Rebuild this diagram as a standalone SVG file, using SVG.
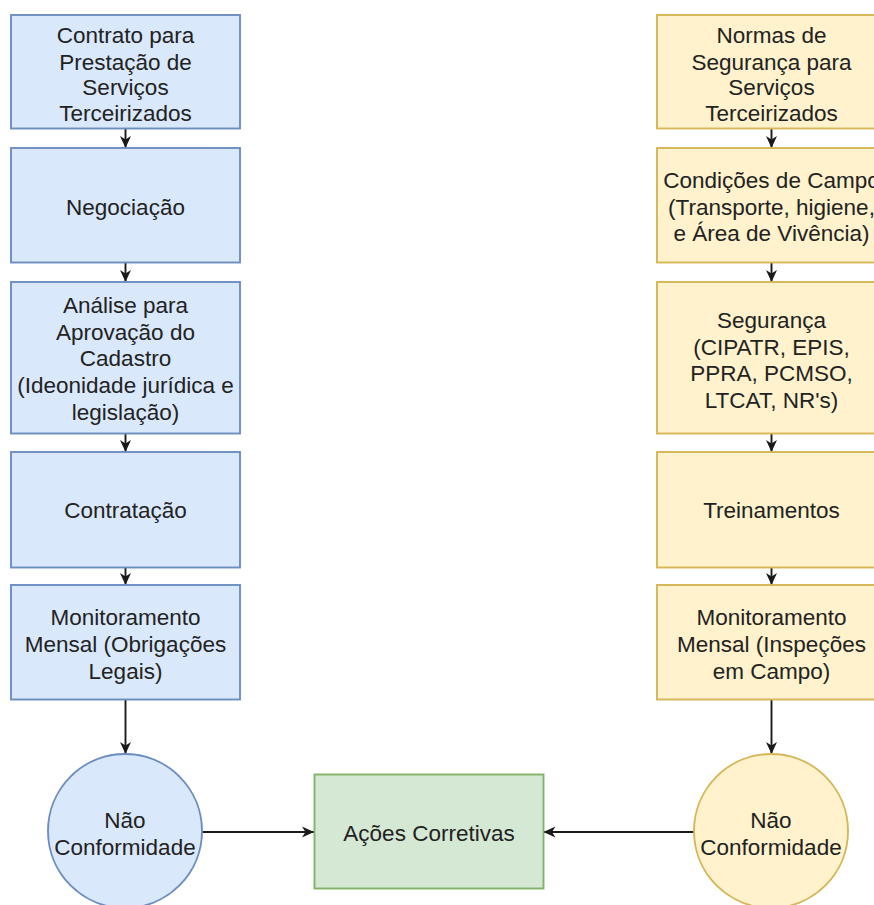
<svg xmlns="http://www.w3.org/2000/svg" width="874" height="905" viewBox="0 0 874 905">
<style>
  text { font-family: "Liberation Sans", Arial, Helvetica, sans-serif; font-size: 22.5px; fill: #222; text-anchor: middle; }
  .blue { fill: #dae8fc; stroke: #6c8ebf; stroke-width: 1.9; }
  .yellow { fill: #fff2cc; stroke: #d6b656; stroke-width: 1.9; }
  .green { fill: #d5e8d4; stroke: #82b366; stroke-width: 1.9; }
  .edge { fill: none; stroke: #1a1a1a; stroke-width: 1.9; marker-end: url(#arrow); }
</style>
<defs>
  <marker id="arrow" viewBox="-12 -6 12 12" refX="0" refY="0" markerWidth="12" markerHeight="12" markerUnits="userSpaceOnUse" orient="auto">
    <path d="M0,0 L-12,-5.5 L-8.5,0 L-12,5.5 Z" fill="#1a1a1a"/>
  </marker>
</defs>
<rect width="874" height="905" fill="#ffffff"/>

<g id="connectors">
  <path class="edge" d="M125.5,128.5 L125.5,148"/>
  <path class="edge" d="M125.5,262.5 L125.5,282"/>
  <path class="edge" d="M125.5,433.5 L125.5,452"/>
  <path class="edge" d="M125.5,567.5 L125.5,585"/>
  <path class="edge" d="M125.5,699.5 L125.5,754"/>
  <path class="edge" d="M771.5,128.5 L771.5,148"/>
  <path class="edge" d="M771.5,262.5 L771.5,282"/>
  <path class="edge" d="M771.5,433.5 L771.5,452"/>
  <path class="edge" d="M771.5,567.5 L771.5,585"/>
  <path class="edge" d="M771.5,699.5 L771.5,754"/>
  <path class="edge" d="M202,832 L314,832"/>
  <path class="edge" d="M694,832 L543.5,832"/>
</g>

<g id="left1">
  <rect class="blue" x="11" y="15" width="229" height="113.5"/>
  <text x="125.5" y="43">Contrato para</text>
  <text x="125.5" y="70">Prestação de</text>
  <text x="125.5" y="95">Serviços</text>
  <text x="125.5" y="121">Terceirizados</text>
</g>
<g id="left2">
  <rect class="blue" x="11" y="148" width="229" height="114.5"/>
  <text x="125.5" y="215">Negociação</text>
</g>
<g id="left3">
  <rect class="blue" x="11" y="282" width="229" height="151.5"/>
  <text x="125.5" y="313">Análise para</text>
  <text x="125.5" y="340">Aprovação do</text>
  <text x="125.5" y="366">Cadastro</text>
  <text x="125.5" y="393">(Ideonidade jurídica e</text>
  <text x="125.5" y="420">legislação)</text>
</g>
<g id="left4">
  <rect class="blue" x="11" y="452" width="229" height="115.5"/>
  <text x="125.5" y="518">Contratação</text>
</g>
<g id="left5">
  <rect class="blue" x="11" y="585" width="229" height="114.5"/>
  <text x="125.5" y="625">Monitoramento</text>
  <text x="125.5" y="652">Mensal (Obrigações</text>
  <text x="125.5" y="679">Legais)</text>
</g>
<g id="leftNC">
  <circle class="blue" cx="125" cy="831" r="77"/>
  <text x="125" y="828">Não</text>
  <text x="125" y="855">Conformidade</text>
</g>

<g id="right1">
  <rect class="yellow" x="657" y="15" width="229" height="113.5"/>
  <text x="771.5" y="43">Normas de</text>
  <text x="771.5" y="70">Segurança para</text>
  <text x="771.5" y="95">Serviços</text>
  <text x="771.5" y="121">Terceirizados</text>
</g>
<g id="right2">
  <rect class="yellow" x="657" y="148" width="229" height="114.5"/>
  <text x="771.5" y="188">Condições de Campo</text>
  <text x="771.5" y="215">(Transporte, higiene,</text>
  <text x="771.5" y="241">e Área de Vivência)</text>
</g>
<g id="right3">
  <rect class="yellow" x="657" y="282" width="229" height="151.5"/>
  <text x="771.5" y="328">Segurança</text>
  <text x="771.5" y="355">(CIPATR, EPIS,</text>
  <text x="771.5" y="381">PPRA, PCMSO,</text>
  <text x="771.5" y="408">LTCAT, NR's)</text>
</g>
<g id="right4">
  <rect class="yellow" x="657" y="452" width="229" height="115.5"/>
  <text x="771.5" y="518">Treinamentos</text>
</g>
<g id="right5">
  <rect class="yellow" x="657" y="585" width="229" height="114.5"/>
  <text x="771.5" y="625">Monitoramento</text>
  <text x="771.5" y="652">Mensal (Inspeções</text>
  <text x="771.5" y="679">em Campo)</text>
</g>
<g id="rightNC">
  <circle class="yellow" cx="771" cy="831" r="77"/>
  <text x="771" y="828">Não</text>
  <text x="771" y="855">Conformidade</text>
</g>

<g id="acoes">
  <rect class="green" x="314.5" y="774.5" width="229" height="114"/>
  <text x="429" y="841">Ações Corretivas</text>
</g>
</svg>
